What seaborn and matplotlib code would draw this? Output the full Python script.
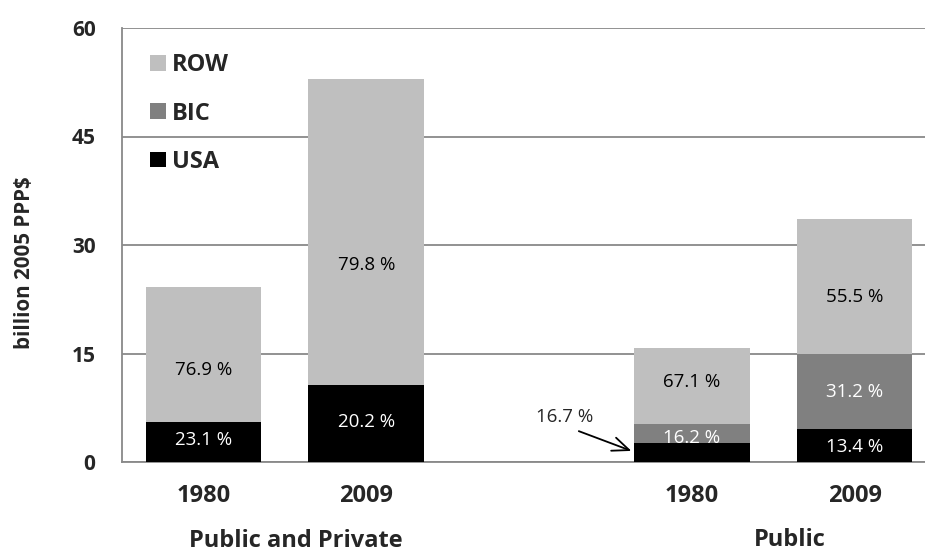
import matplotlib
matplotlib.use("Agg")
import matplotlib.pyplot as plt
import seaborn as sns
import pandas as pd
import numpy as np
from matplotlib.patches import Patch

# ---- data ----
slots = ["PP1980", "PP2009", "gap", "P1980", "P2009"]
bar_slots = ["PP1980", "PP2009", "P1980", "P2009"]
years = ["1980", "2009", "1980", "2009"]
totals = [24.2, 53.0, 15.8, 33.55]          # billion 2005 PPP$
usa_share = [23.1, 20.2, 16.7, 13.4]        # %
bic_share = [0.0, 0.0, 16.2, 31.2]          # %
row_share = [76.9, 79.8, 67.1, 55.5]        # %
groups = ["Public and Private", "Public"]
series = ["ROW", "BIC", "USA"]
colors = {"ROW": "#bfbfbf", "BIC": "#808080", "USA": "#000000"}

usa_val = [t * s / 100 for t, s in zip(totals, usa_share)]
bic_cum = [u + t * s / 100 for u, t, s in zip(usa_val, totals, bic_share)]

df = pd.DataFrame({"slot": bar_slots, "total": totals,
                   "bic_cum": bic_cum, "usa": usa_val})

# ---- style ----
sns.set_style("white")
plt.rcParams["font.family"] = ["Open Sans", "DejaVu Sans"]
grid_c = "#898989"

fig = plt.figure(figsize=(9.25, 5.54), dpi=100)
ax = fig.add_axes([122 / 925, 1 - 462 / 554, (936 - 122) / 925, (462 - 28) / 554])

bw = 0.71
kw = dict(order=slots, width=bw, saturation=1, ax=ax, linewidth=0, edgecolor="none")
sns.barplot(data=df, x="slot", y="total", color=colors["ROW"], zorder=2, **kw)
sns.barplot(data=df[df["bic_cum"] > df["usa"] + 1e-9], x="slot", y="bic_cum",
            color=colors["BIC"], zorder=3, **kw)
sns.barplot(data=df, x="slot", y="usa", color=colors["USA"], zorder=4, **kw)

ax.set_xlim(-0.5, 4.5)
ax.set_ylim(0, 60)
ax.set_yticks([0, 15, 30, 45, 60])
ax.yaxis.grid(True, color=grid_c, lw=1.3)
ax.set_axisbelow(True)
for s in ["top", "right"]:
    ax.spines[s].set_visible(False)
for s in ["left", "bottom"]:
    ax.spines[s].set_color(grid_c)
    ax.spines[s].set_linewidth(1.3)

pos = [slots.index(s) for s in bar_slots]
ax.set_xticks(pos)
ax.set_xticklabels(years, fontsize=17, fontweight="bold")
ax.set_xticks(np.arange(-0.5, 5.0, 1.0), minor=True)
ax.tick_params(axis="x", which="major", length=0, pad=16)
ax.tick_params(axis="x", which="minor", length=8, width=1.3, color=grid_c, direction="out")
ax.tick_params(axis="y", length=8, width=1.3, color=grid_c, direction="out", pad=11)
for lab in ax.get_yticklabels():
    lab.set_fontsize(15)
    lab.set_fontweight("bold")
ax.set_xlabel("")
ax.set_ylabel("")
fig.text(25 / 925, 1 - 263 / 554, "billion 2005 PPP$", rotation=90, ha="center", va="center",
         fontsize=14.8, fontweight="bold")

# group labels
fig.text(296 / 925, 1 - 541 / 554, groups[0], ha="center", va="center",
         fontsize=17, fontweight="bold")
fig.text(790 / 925, 1 - 540 / 554, groups[1], ha="center", va="center",
         fontsize=17, fontweight="bold")

# percentage labels (label heights placed as in the original)
usa_lab_y = [3.05, 5.55, None, 2.1]
bic_lab_y = [None, None, 3.3, 9.7]
row_lab_y = [12.7, 27.2, 11.1, 22.85]
for i, p in enumerate(pos):
    ax.text(p, row_lab_y[i], f"{row_share[i]:.1f} %", ha="center", va="center",
            fontsize=13.5, color="black", zorder=6)
    if bic_lab_y[i] is not None:
        ax.text(p, bic_lab_y[i], f"{bic_share[i]:.1f} %", ha="center", va="center",
                fontsize=13.5, color="white", zorder=6)
    if usa_lab_y[i] is not None:
        ax.text(p, usa_lab_y[i], f"{usa_share[i]:.1f} %", ha="center", va="center",
                fontsize=13.5, color="white", zorder=6)

# annotation for USA share of public 1980
ax.text(2.22, 6.2, f"{usa_share[2]:.1f} %", ha="center", va="center", fontsize=13.5, zorder=6)
ax.annotate("", xy=(3 - bw / 2, 1.4), xytext=(2.29, 4.4),
            arrowprops=dict(arrowstyle="->,head_length=1.2,head_width=0.5", color="black", lw=1.3),
            zorder=7)

# legend
handles = [Patch(facecolor=colors[s], edgecolor="none", label=s) for s in series]
fig.legend(handles=handles, loc="upper left", bbox_to_anchor=(129 / 925, 1 - 32 / 554),
           frameon=False, handlelength=0.65, handleheight=0.65,
           handletextpad=0.25, labelspacing=1.03, prop={"weight": "bold", "size": 17})

fig.savefig("out.png", dpi=100)
